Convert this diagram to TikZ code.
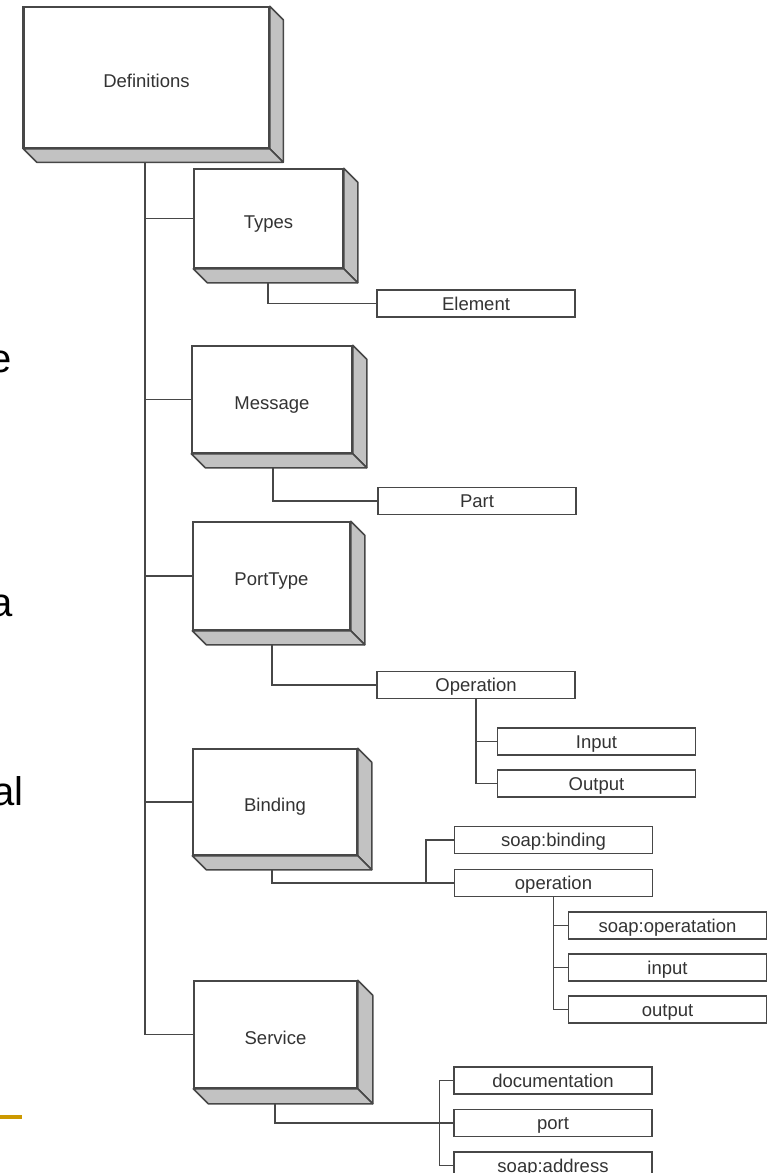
\documentclass[tikz,border=0pt]{standalone}
\usepackage{fontspec}
\setmainfont{Liberation Sans}
\usetikzlibrary{calc}

\definecolor{edge}{HTML}{474747}
\definecolor{shade}{HTML}{C2C2C2}
\definecolor{labelgray}{HTML}{333333}
\definecolor{gold}{HTML}{CC9900}

\tikzset{
  boxfont/.style={font=\fontsize{18.5}{20}\selectfont, text=labelgray},
  block/.style={draw=edge, line width=1.5pt, fill=white, boxfont, inner sep=0pt,
                text height=19pt, text depth=0pt},
  leaf/.style={draw=edge, line width=1.5pt, fill=white, boxfont, inner sep=0pt,
               minimum width=198pt, minimum height=27pt, text height=13.5pt, text depth=0pt},
  link/.style={draw=edge, line width=1.5pt},
  side/.style={fill=shade, draw=edge, line width=1.5pt, line join=round},
  frag/.style={font=\fontsize{40}{44}\selectfont, inner sep=0pt, text=black},
}

% shaded right and bottom faces of a raised block
\newcommand\drawslab[2]{%
  \path[side] (#1.north east) -- ++(#2,#2) -- ($(#1.south east)+(#2,#2)$) -- (#1.south east) -- cycle;
  \path[side] (#1.south west) -- (#1.south east) -- ($(#1.south east)+(#2,#2)$) -- ($(#1.south west)+(#2,#2)$) -- cycle;
}

\begin{document}
\begin{tikzpicture}[x=1pt,y=-1pt]
\useasboundingbox (0,0) rectangle (767,1173);
\clip (0,0) rectangle (767,1173);

% text running off the left edge
\node[frag, anchor=base west] (fragE) at (-11,372) {e};
\node[frag, anchor=base west] (fragA) at (-10,616) {a};
\node[frag, anchor=base west] (fragAl) at (-8,805) {al};
\fill[gold] (0,1115) rectangle (22,1119);

% main elements
\node[block, minimum width=245pt, minimum height=141pt] (defs) at (146.5,77.5) {Definitions};
\drawslab{defs}{13.5}
\draw[edge, line width=2.6pt] (defs.north west) -- (defs.south west);
\node[block, minimum width=149pt, minimum height=99pt] (types) at (268.5,218.5) {Types};
\drawslab{types}{14}
\node[block, minimum width=160pt, minimum height=107pt] (message) at (272,399.5) {Message};
\drawslab{message}{14}
\node[block, minimum width=157pt, minimum height=108pt] (porttype) at (271.5,576) {PortType};
\drawslab{porttype}{14}
\node[block, minimum width=164pt, minimum height=106pt] (binding) at (275,802) {Binding};
\drawslab{binding}{14}
\node[block, minimum width=163pt, minimum height=107pt] (service) at (275.5,1034.5) {Service};
\drawslab{service}{15}

% child elements
\node[leaf] (element) at (476,303.5) {Element};
\node[leaf] (part) at (477,501) {Part};
\node[leaf] (op1) at (476,685) {Operation};
\node[leaf] (input1) at (596.5,741.5) {Input};
\node[leaf] (output1) at (596.5,783.5) {Output};
\node[leaf] (soapbind) at (553.5,840) {soap:binding};
\node[leaf] (op2) at (553.5,883) {operation};
\node[leaf] (soapop) at (667.5,925.5) {soap:operatation};
\node[leaf] (input2) at (667.5,967.5) {input};
\node[leaf] (output2) at (667.5,1009.5) {output};
\node[leaf] (doc) at (553,1080.5) {documentation};
\node[leaf] (port) at (553,1123) {port};
\node[leaf] (addr) at (553,1165.5) {soap:address};

% trunk and branches
\coordinate (defs-foot) at (145,162);
\draw[link] (defs-foot) |- (service.west);
\draw[link] (types.west) -- (types.west -| defs-foot);
\draw[link] (message.west) -- (message.west -| defs-foot);
\draw[link] (porttype.west) -- (porttype.west -| defs-foot);
\draw[link] (binding.west) -- (binding.west -| defs-foot);

% second level
\coordinate (types-foot) at (268,283);
\draw[link] (types-foot) |- (element.west);
\coordinate (message-foot) at (273,467);
\draw[link] (message-foot) |- (part.west);
\coordinate (porttype-foot) at (272,644);
\draw[link] (porttype-foot) |- (op1.west);
\draw[link] (op1.south) |- (input1.west);
\draw[link] (op1.south) |- (output1.west);

\coordinate (binding-foot) at (272,869);
\draw[link] (binding-foot) |- (op2.west);
\draw[link] (soapbind.west) -- ++(-28,0) |- (op2.west);
\draw[link] (op2.south) |- (soapop.west);
\draw[link] (op2.south) |- (input2.west);
\draw[link] (op2.south) |- (output2.west);

\coordinate (service-foot) at (275,1103);
\draw[link] (service-foot) |- (port.west);
\draw[link] (doc.west) -- ++(-14,0) |- (addr.west);
\end{tikzpicture}
\end{document}
